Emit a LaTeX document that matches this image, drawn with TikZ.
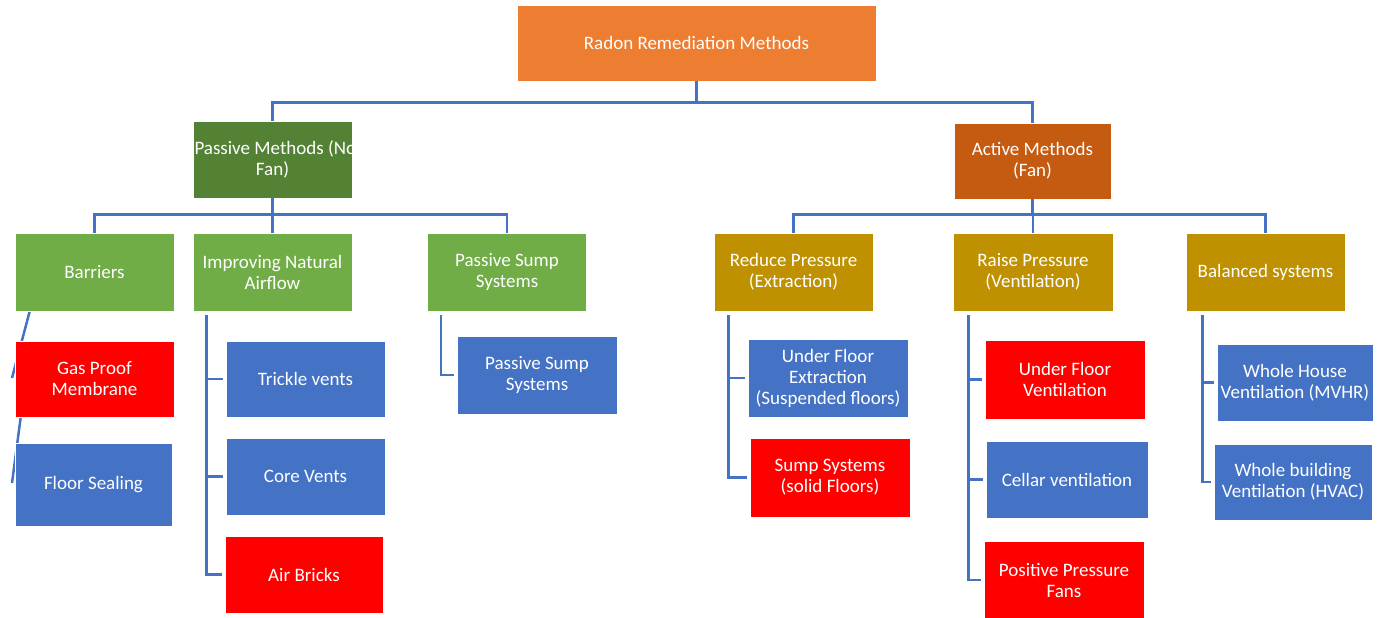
\documentclass[tikz,border=0pt]{standalone}
\usepackage{fontspec}
\setmainfont{Carlito}
\usepackage{tikz}
\usetikzlibrary{backgrounds}
\definecolor{toporange}{HTML}{ED7D31}
\definecolor{darkgreen}{HTML}{548235}
\definecolor{rustorange}{HTML}{C55A11}
\definecolor{leafgreen}{HTML}{70AD47}
\definecolor{gold}{HTML}{BF9000}
\definecolor{midblue}{HTML}{4472C4}
\definecolor{linkblue}{HTML}{4472C4}

\begin{document}
\begin{tikzpicture}[x=1pt, y=-1pt,
	textbox/.style={font=\fontsize{19}{21}\selectfont, text=white, draw=white, line width=0.6pt, minimum width=159, minimum height=78, inner sep=1, align=center},
	topbox/.style={textbox, fill=toporange},
	passbox/.style={textbox, fill=darkgreen},
	actbox/.style={textbox, fill=rustorange},
	greenbox/.style={textbox, fill=leafgreen},
	goldbox/.style={textbox, fill=gold},
	bluebox/.style={textbox, fill=midblue},
	redbox/.style={textbox, fill=red},
	conn/.style={draw=linkblue, line width=2.5pt}
]
\useasboundingbox (0,0) rectangle (1394,618);
\node[topbox, minimum width=359, minimum height=76] (v1) at (696.5,43) {Radon Remediation Methods};
\node[passbox, minimum height=77] (v2) at (272.5,159.5) {\makebox[156pt][l]{Passive Methods (No}\\Fan)};
\node[actbox, minimum width=157, minimum height=76] (v3) at (1032.5,161) {Active Methods\\(Fan)};
%second row
\node[greenbox] (v4) at (94.5,272) {Barriers};
\node[greenbox] (v5) at (272.5,272) {Improving Natural\\Airflow};
\node[greenbox] (v6) at (507,272) {Passive Sump\\Systems};
\node[goldbox] (v7) at (793.5,272) {Reduce Pressure\\(Extraction)};
\node[goldbox, minimum width=160] (v8) at (1033,272) {Raise Pressure\\(Ventilation)};
\node[goldbox] (v9) at (1265.5,272) {Balanced systems};
%leaves
\node[redbox, minimum height=76] (v10) at (94.5,379) {Gas Proof\\Membrane};
\node[bluebox, minimum width=157, minimum height=83] (v11) at (93.5,484.5) {Floor Sealing};
\node[bluebox, minimum height=76] (v12) at (305.5,379) {Trickle vents};
\node[bluebox, minimum height=77] (v13) at (305.5,476.5) {Core Vents};
\node[redbox, minimum width=158, minimum height=77] (v14) at (304,574.5) {Air Bricks};
\node[bluebox, minimum width=160] (v15) at (537,375) {Passive Sump\\Systems};
\node[bluebox, minimum width=160] (v16) at (828,378) {Under Floor\\Extraction\\(Suspended floors)};
\node[redbox, minimum width=160, minimum height=79] (v17) at (830,477.5) {Sump Systems\\(solid Floors)};
\node[redbox, minimum width=160, minimum height=79] (v18) at (1065,379.5) {Under Floor\\Ventilation};
\node[bluebox, minimum width=162, minimum height=77] (v19) at (1067,479.5) {Cellar ventilation};
\node[redbox, minimum width=160] (v20) at (1064,580) {Positive Pressure\\Fans};
\node[bluebox, minimum width=156, minimum height=77] (v21) at (1295,382.5) {Whole House\\Ventilation (MVHR)};
\node[bluebox, minimum width=158, minimum height=76] (v22) at (1293,482) {Whole building\\Ventilation (HVAC)};
\coordinate (k1) at (12,378);
\coordinate (k2) at (12,483);
\draw[conn] (v1.south) -- ++(0,21) -| (v2.north);
\draw[conn] (v1.south) -- ++(0,21) -| (v3.north);
\draw[conn] (v2.south) -- ++(0,16) -| (v4.north);
\draw[conn] (v2.south) -- ++(0,16) -| (v5.north);
\draw[conn] (v2.south) -- ++(0,16) -| (v6.north);
\draw[conn] (v3.south) -- ++(0,15) -| (v7.north);
\draw[conn] (v3.south) -- ++(0,15) -| (v8.north);
\draw[conn] (v3.south) -- ++(0,15) -| (v9.north);
\begin{scope}[on background layer]
\draw[conn] ([xshift=15]v4.south west) -- (k1);
\draw[conn] ([xshift=6]v10.south west) -- (k2);
\end{scope}
\draw[conn] ([shift={(14,4)}]v5.south west) |- ([xshift=-3]v12.west);
\draw[conn] ([shift={(14,4)}]v5.south west) |- ([xshift=-3]v13.west);
\draw[conn] ([shift={(14,4)}]v5.south west) |- ([xshift=-3]v14.west);
\draw[conn] ([shift={(14,4)}]v6.south west) |- ([xshift=-3]v15.west);
\draw[conn] ([shift={(15,4)}]v7.south west) |- ([xshift=-3]v16.west);
\draw[conn] ([shift={(15,4)}]v7.south west) |- ([xshift=-3]v17.west);
\draw[conn] ([shift={(16,4)}]v8.south west) |- ([xshift=-3]v18.west);
\draw[conn] ([shift={(16,4)}]v8.south west) |- ([xshift=-3]v19.west);
\draw[conn] ([shift={(16,4)}]v8.south west) |- ([xshift=-3]v20.west);
\draw[conn] ([shift={(17,4)}]v9.south west) |- ([xshift=-3]v21.west);
\draw[conn] ([shift={(17,4)}]v9.south west) |- ([xshift=-3]v22.west);
\end{tikzpicture}
\end{document}
